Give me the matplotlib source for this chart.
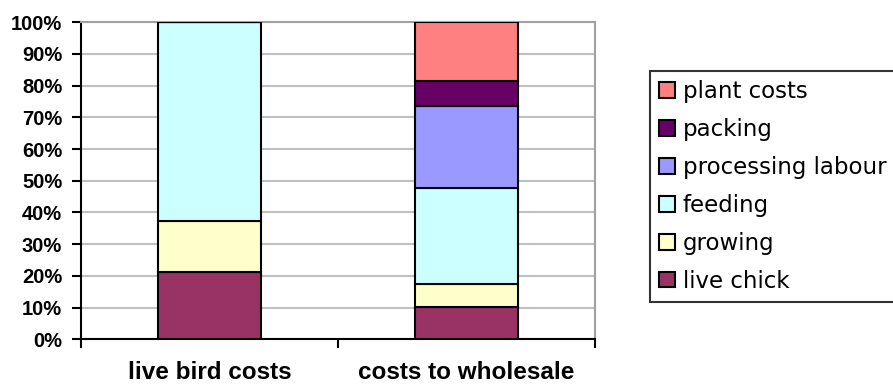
import matplotlib
matplotlib.use('Agg')
import matplotlib.pyplot as plt
import numpy as np

categories = ['live bird costs', 'costs to wholesale']
series = ['live chick', 'growing', 'feeding', 'processing labour', 'packing', 'plant costs']
live_chick = [21.3, 10.1]
growing = [16.0, 7.4]
feeding = [62.7, 30.1]
processing_labour = [0.0, 26.1]
packing = [0.0, 7.7]
plant_costs = [0.0, 18.6]
colors = ['#993366', '#FFFFCC', '#CCFFFF', '#9999FF', '#660066', '#FF8080']
y_ticks = list(range(0, 101, 10))

values = [live_chick, growing, feeding, processing_labour, packing, plant_costs]

fig = plt.figure(figsize=(8.93, 3.87), dpi=100)
ax = fig.add_axes([81 / 893, 47.7 / 387, (595 - 81) / 893, (339.3 - 22.3) / 387])

x = np.arange(len(categories))
bottom = np.zeros(len(categories))
handles = []
for name, vals, col in zip(series, values, colors):
    vals = np.array(vals)
    b = ax.bar(x, vals, 0.4, bottom=bottom, color=col, edgecolor='black',
               linewidth=1.5, label=name, zorder=3)
    handles.append(b)
    bottom += vals

ax.set_xlim(-0.5, 1.5)
ax.set_ylim(0, 100)
ax.set_yticks(y_ticks)
ax.set_yticklabels([f'{t}%' for t in y_ticks], fontfamily='Liberation Sans',
                   fontweight='bold', fontsize=14.5)
ax.yaxis.grid(True, color='#C0C0C0', linewidth=1.5, zorder=0)
ax.set_axisbelow(True)

# category boundaries get the tick marks, names sit in between
ax.set_xticks([-0.5, 0.5, 1.5])
ax.set_xticklabels([])
ax.set_xticks(x, minor=True)
ax.set_xticklabels(categories, minor=True, fontfamily='Liberation Sans',
                   fontweight='bold', fontsize=17.5)
ax.tick_params(axis='x', which='minor', length=0, pad=15.5)
ax.tick_params(axis='both', which='major', length=6.5, width=1.5, color='black')
ax.tick_params(axis='y', pad=7)

for s in ['left', 'bottom']:
    ax.spines[s].set_color('black')
    ax.spines[s].set_linewidth(1.5)
for s in ['top', 'right']:
    ax.spines[s].set_color('#A0A0A0')
    ax.spines[s].set_linewidth(1.5)

leg = fig.legend(handles[::-1], series[::-1], loc='upper left',
                 bbox_to_anchor=(650 / 893, 1 - 71 / 387),
                 frameon=True, fancybox=False, edgecolor='black',
                 prop={'family': 'DejaVu Sans', 'size': 16.5},
                 handlelength=0.68, handleheight=0.68, handletextpad=0.35,
                 labelspacing=0.65, borderpad=0.4, borderaxespad=0)
leg.get_frame().set_linewidth(1.5)

fig.savefig('out.png', dpi=100)
